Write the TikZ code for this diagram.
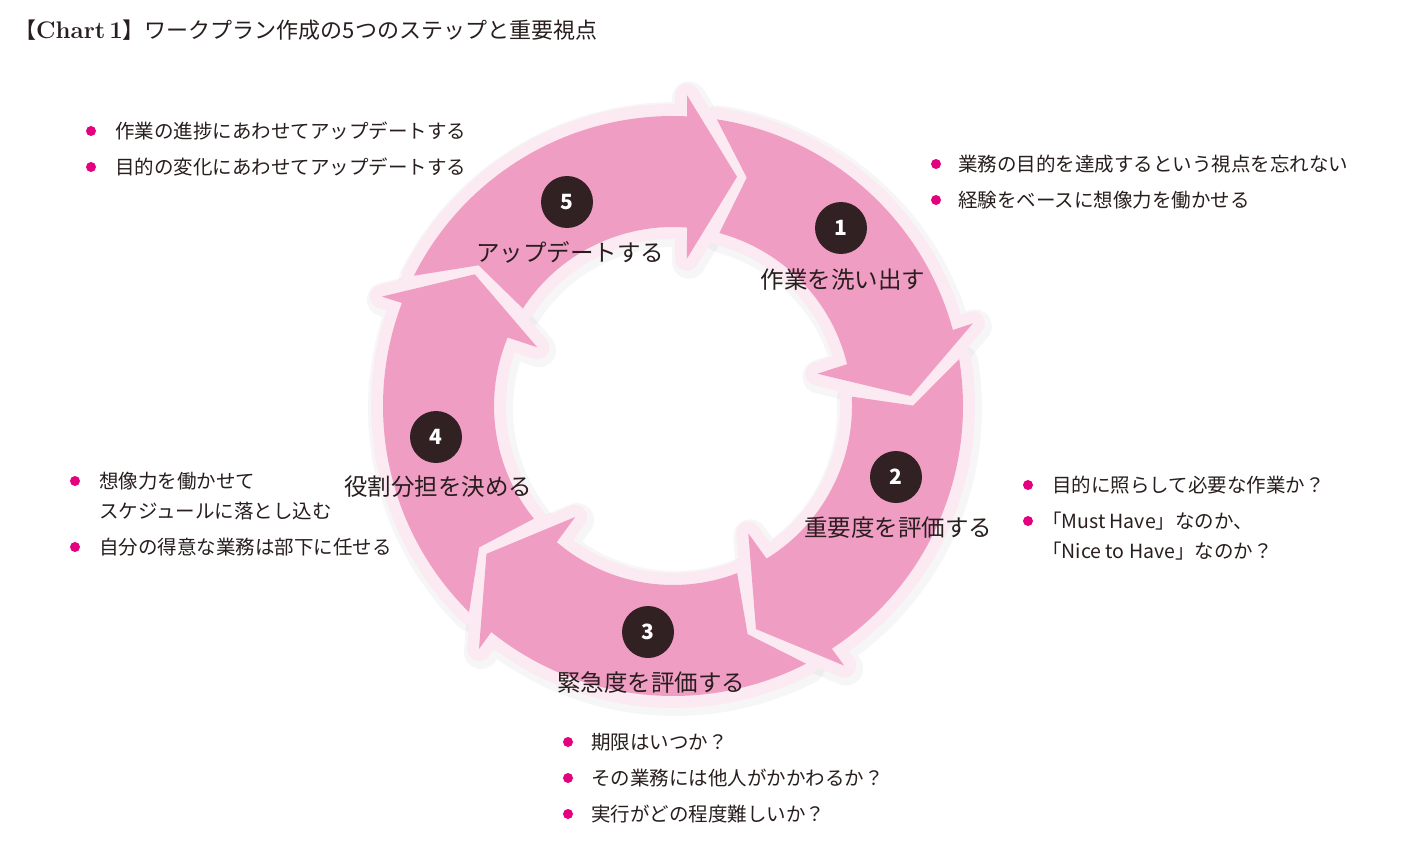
\documentclass[tikz,border=0pt]{standalone}
\usepackage{fontspec}
\usepackage{tikz}
\newfontfamily\jp{Noto Sans CJK JP}
\definecolor{ringpink}{RGB}{240,157,196}
\definecolor{ringlight}{RGB}{252,234,242}
\definecolor{numdark}{RGB}{50,33,35}
\definecolor{bulletmag}{RGB}{228,0,127}
\definecolor{textdark}{RGB}{40,30,30}
\tikzset{
  ringshade/.style={draw=black, draw opacity=0.035, line width=34pt, line join=round},
  ringedge/.style={draw=ringlight, line width=24pt, line join=round},
  ringfill/.style={fill=ringpink},
  stepnum/.style={circle, fill=numdark, minimum size=52pt, inner sep=0pt, text=white,
    font=\jp\bfseries\fontsize{21}{21}\selectfont},
  steplabel/.style={inner sep=0pt, text=textdark, font=\jp\fontsize{23.5}{23.5}\selectfont},
  dot/.style={circle, fill=bulletmag, minimum size=10pt, inner sep=0pt},
  note/.style={anchor=west, inner sep=0pt, text=textdark, font=\jp\fontsize{19.5}{19.5}\selectfont}
}
\newcommand{\ringarrow}{(153.3:290) -- (144.1:240) -- (147:179)
    arc[start angle=147, end angle=85.5, radius=179] -- (84.6:148) -- (74.4:238)
    -- (87.4:311) -- (87.2:290) arc[start angle=87.2, end angle=153.3, radius=290] -- cycle}

\begin{document}
\begin{tikzpicture}[x=1pt,y=-1pt]
\useasboundingbox[fill=white] (0,0) rectangle (1413,845);

% title
\node[anchor=west, inner sep=0pt, text=textdark] (title) at (14,30)
  {{\jp\fontsize{22}{22}\selectfont 【}{\bfseries\fontsize{24}{24}\selectfont Chart\hspace{4pt}1}{\jp\fontsize{22}{22}\selectfont 】ワークプラン作成の5つのステップと重要視点}};

% the ring of five arrows
\begin{scope}[shift={(675,409)}, y=1pt]
\foreach \a in {0,72,...,288}
  \draw[ringshade, rotate=-\a] \ringarrow;
\end{scope}
\begin{scope}[shift={(673,406)}, y=1pt]
\foreach \a in {0,72,...,288}
  \draw[ringedge, rotate=-\a] \ringarrow;
\foreach \a in {0,72,...,288}
  \fill[ringfill, rotate=-\a] \ringarrow;
\end{scope}

% step numbers and names
\node[stepnum] (n1) at (841,228) {1};
\node[stepnum] (n2) at (896,477) {2};
\node[stepnum] (n3) at (648,632) {3};
\node[stepnum] (n4) at (436,437) {4};
\node[stepnum] (n5) at (567,202) {5};
\node[steplabel] (s1) at (843,280) {作業を洗い出す};
\node[steplabel] (s2) at (898,528) {重要度を評価する};
\node[steplabel] (s3) at (651,683) {緊急度を評価する};
\node[steplabel] (s4) at (438,487) {役割分担を決める};
\node[steplabel] (s5) at (570,252) {アップデートする};

% notes for step 5
\node[dot] (d51) at (91,131) {};
\node[note] (t51) at (115,131) {作業の進捗にあわせてアップデートする};
\node[dot] (d52) at (91,167) {};
\node[note] (t52) at (115,167) {目的の変化にあわせてアップデートする};

% notes for step 1
\node[dot] (d11) at (936,164) {};
\node[note] (t11) at (958,164) {業務の目的を達成するという視点を忘れない};
\node[dot] (d12) at (936,200) {};
\node[note] (t12) at (958,200) {経験をベースに想像力を働かせる};

% notes for step 2
\node[dot] (d21) at (1028,485) {};
\node[note] (t21) at (1052,485) {目的に照らして必要な作業か？};
\node[dot] (d22) at (1028,521) {};
\node[note] (t22) at (1042,521) {「Must Have」なのか、};
\node[note] (t23) at (1042,551) {「Nice to Have」なのか？};

% notes for step 3
\node[dot] (d31) at (568,742) {};
\node[note] (t31) at (591,742) {期限はいつか？};
\node[dot] (d32) at (568,778) {};
\node[note] (t32) at (591,778) {その業務には他人がかかわるか？};
\node[dot] (d33) at (568,814) {};
\node[note] (t33) at (591,814) {実行がどの程度難しいか？};

% notes for step 4
\node[dot] (d41) at (75,481) {};
\node[note] (t41) at (99,481) {想像力を働かせて};
\node[note] (t42) at (99,511) {スケジュールに落とし込む};
\node[dot] (d43) at (75,547) {};
\node[note] (t43) at (99,547) {自分の得意な業務は部下に任せる};
\end{tikzpicture}
\end{document}
